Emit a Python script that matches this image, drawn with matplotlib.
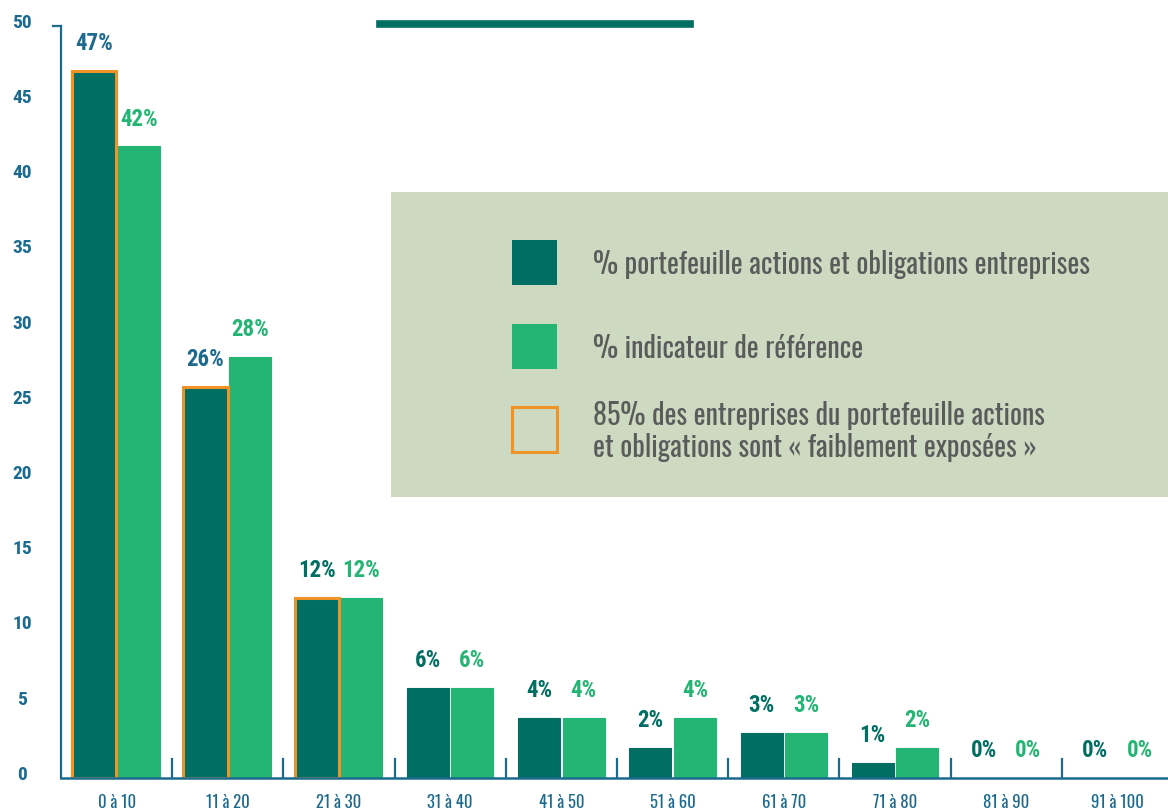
import matplotlib
matplotlib.use("Agg")
import matplotlib.pyplot as plt
from matplotlib import font_manager
from matplotlib.patches import Rectangle
import numpy as np

_installed = {f.name for f in font_manager.fontManager.ttflist}


def _pick(*names: str) -> list[str]:
    found = [n for n in names if n in _installed]
    return found + ["DejaVu Sans"]


FONT = _pick("Oswald", "Open Sans Condensed")
BOLD_FONT = _pick("Roboto Condensed", "Fjalla One", "Oswald")
plt.rcParams["font.family"] = FONT

categories = ["0 à 10", "11 à 20", "21 à 30", "31 à 40", "41 à 50",
              "51 à 60", "61 à 70", "71 à 80", "81 à 90", "91 à 100"]
portefeuille = [47, 26, 12, 6, 4, 2, 3, 1, 0, 0]
reference = [42, 28, 12, 6, 4, 4, 3, 2, 0, 0]
highlighted = [0, 1, 2]
y_ticks = [0, 5, 10, 15, 20, 25, 30, 35, 40, 45, 50]

legend_labels = [
    "% portefeuille actions et obligations entreprises",
    "% indicateur de référence",
    "85% des entreprises du portefeuille actions\net obligations sont « faiblement exposées »",
]

DARK = "#006e62"
GREEN = "#24b574"
ORANGE = "#ef9327"
BLUE = "#1c6a8e"
LEGEND_BG = "#cdd9c0"
TEXT_GREY = "#5a5c5c"

W, H = 1168, 812
fig = plt.figure(figsize=(W / 100, H / 100), dpi=100)
fig.patch.set_facecolor("white")

left, right = 61, 1168
bottom, top = 779, 27
ax = fig.add_axes([left / W, (H - bottom) / H, (right - left) / W, (bottom - top) / H])
cat_w = 111.2
ax.set_xlim(-0.5, -0.5 + (right - left) / cat_w)
ax.set_ylim(0, 50)
for s in ax.spines.values():
    s.set_visible(False)
ax.set_xticks([])
ax.set_yticks([])
ax.patch.set_alpha(0)

x = np.arange(len(categories))
bw = 0.378
off = 0.2
ax.bar(x - off, portefeuille, bw, color=DARK, edgecolor=DARK, linewidth=0.8, zorder=3)
ax.bar(x + off, reference, bw, color=GREEN, edgecolor=GREEN, linewidth=0.8, zorder=3)
for i in highlighted:
    ax.bar(x[i] - off, portefeuille[i], bw + 0.02, color="none", edgecolor=ORANGE,
           linewidth=2.2, zorder=4)

# value labels
for i, (p, r) in enumerate(zip(portefeuille, reference)):
    pc = BLUE if p > 20 else DARK
    ax.annotate(f"{p}%", (x[i] - off, p), xytext=(0, 12), textcoords="offset points",
                ha="center", va="bottom", fontsize=16.5, fontweight="bold", family=BOLD_FONT,
                color=pc, zorder=5)
    ax.annotate(f"{r}%", (x[i] + off, r), xytext=(0, 12), textcoords="offset points",
                ha="center", va="bottom", fontsize=16.5, fontweight="bold", family=BOLD_FONT,
                color=GREEN, zorder=5)

# axes lines
ax.plot([-0.5, ax.get_xlim()[1]], [0, 0], color=BLUE, lw=1.8, clip_on=False, zorder=6)
ax.plot([-0.5, -0.5], [0, 50], color=BLUE, lw=1.6, clip_on=False, zorder=6)
ax.plot([-0.5 - 8 / cat_w, -0.5], [50, 50], color=BLUE, lw=1.6, clip_on=False, zorder=6)
for b in np.arange(0.5, len(categories) - 0.5, 1):
    ax.plot([b, b], [0, 1.25], color=BLUE, lw=1.6, zorder=6)

# tick labels
for v in y_ticks:
    ax.annotate(str(v), (-0.5, v), xytext=(-28, 3), textcoords="offset points",
                ha="center", va="center", fontsize=14, fontweight="bold", family=BOLD_FONT,
                color=BLUE, annotation_clip=False)
for i, c in enumerate(categories):
    ax.annotate(c, (x[i], 0), xytext=(0, -17), textcoords="offset points",
                ha="center", va="center", fontsize=12, color=BLUE, annotation_clip=False)

# top decorative line
fig.add_artist(plt.Line2D([380 / W, 690 / W], [(H - 25) / H] * 2, color=DARK, lw=5.5))

# legend box
fig.add_artist(Rectangle((391 / W, (H - 498) / H), (1168 - 391) / W, (498 - 193) / H,
                         facecolor=LEGEND_BG, edgecolor="none", zorder=1))
sq = 45
legend_rows = [(241, DARK, "none"), (325, GREEN, "none"), (408, "none", ORANGE)]
for (ytop, fc, ec), lab in zip(legend_rows, legend_labels):
    fig.add_artist(Rectangle((512 / W, (H - ytop - sq) / H), sq / W, sq / H,
                             facecolor=fc, edgecolor=ec, linewidth=2.2, zorder=2))
    fig.text(593 / W, (H - ytop - sq / 2 - 1) / H, lab, ha="left", va="center",
             fontsize=20.3, fontweight="light", color=TEXT_GREY, linespacing=1.15, zorder=3)

fig.savefig("out.png", dpi=100)
